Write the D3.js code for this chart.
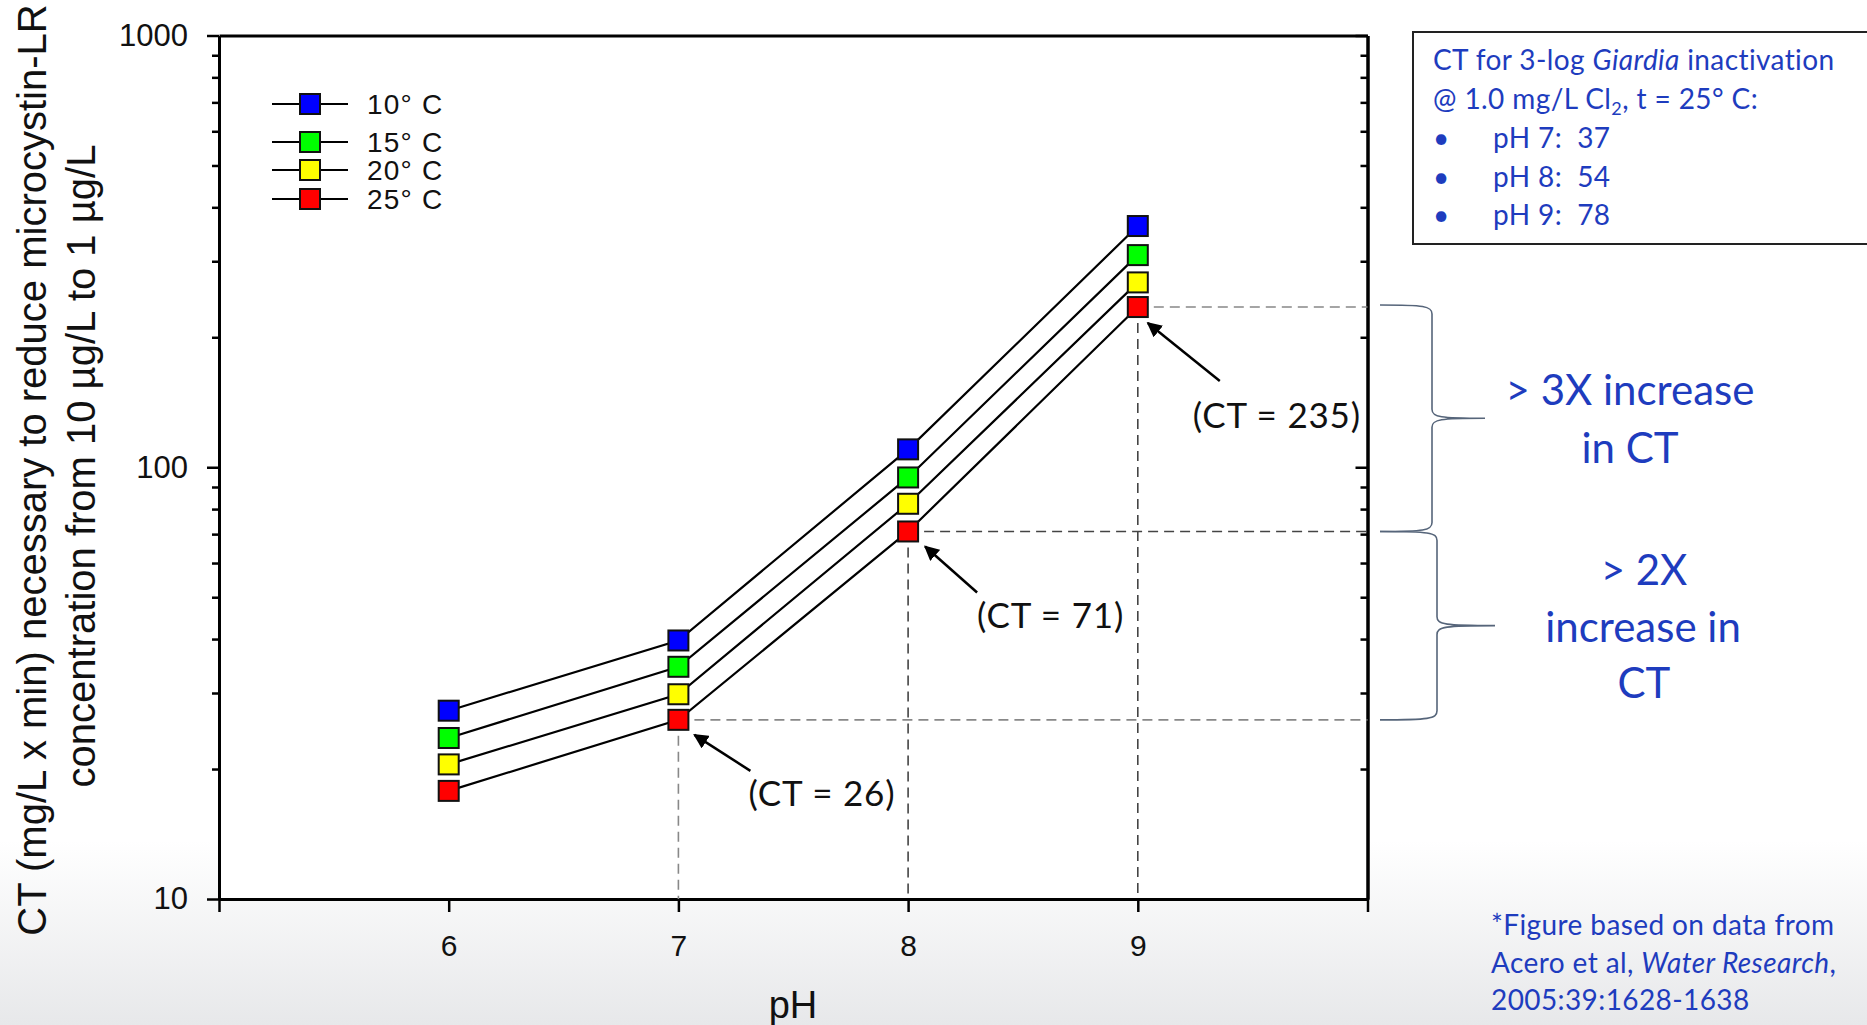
<!DOCTYPE html>
<meta charset="utf-8" />
<script src="https://d3js.org/d3.v7.min.js"></script>
<style>
  body { margin: 0; background: #fff; }
  svg { display: block; }
</style>
<body>
<div id="chart"></div>
<script>
// ---- data ----
var phValues = [6, 7, 8, 9];
var tempLabels = ["10° C", "15° C", "20° C", "25° C"];
var tempColors = ["#0000ff", "#00ff00", "#ffff00", "#ff0000"];
var ct10 = [27.3, 39.7, 110, 362];
var ct15 = [23.6, 34.5, 94.7, 310];
var ct20 = [20.5, 29.8, 82.3, 268];
var ct25 = [17.8, 26, 71, 235];
var yMajor = [10, 100, 1000];
var yMinor = [20, 30, 40, 50, 60, 70, 80, 90, 200, 300, 400, 500, 600, 700, 800, 900];
var xTicks = [5, 6, 7, 8, 9, 10];
var xLabels = [6, 7, 8, 9];
var calloutPh = [7, 8, 9];
var calloutLabels = ["(CT = 26)", "(CT = 71)", "(CT = 235)"];
var giardiaPh = ["pH 7:  37", "pH 8:  54", "pH 9:  78"];

var width = 1867, height = 1025;
var blue = "#1e3cbe";

var svg = d3.select("#chart").append("svg")
  .attr("width", width).attr("height", height)
  .style("font-family", "'Liberation Sans', Arial, sans-serif");

// background with the slide's grey fade at the bottom
var defs = svg.append("defs");
var grad = defs.append("linearGradient").attr("id", "bg")
  .attr("x1", 0).attr("y1", 0).attr("x2", 0).attr("y2", 1);
grad.append("stop").attr("offset", "0.82").attr("stop-color", "#ffffff");
grad.append("stop").attr("offset", "1").attr("stop-color", "#e7e8ea");
svg.append("rect").attr("width", width).attr("height", height).attr("fill", "url(#bg)");

defs.append("marker").attr("id", "arrow")
  .attr("viewBox", "0 0 10 10").attr("refX", 9).attr("refY", 5)
  .attr("markerWidth", 6).attr("markerHeight", 6)
  .attr("markerUnits", "strokeWidth")
  .attr("orient", "auto")
  .append("path").attr("d", "M0,0 L10,5 L0,10 z").attr("fill", "#000");

// scales
var x = d3.scaleLinear().domain([5, 10]).range([219, 1367.5]);
var y = d3.scaleLog().domain([10, 1000]).range([899, 35.5]);

var plot = svg.append("g");
plot.append("rect")
  .attr("x", x(5)).attr("y", y(1000))
  .attr("width", x(10) - x(5)).attr("height", y(10) - y(1000))
  .attr("fill", "#fff");

// ---- axes ----
function styleAxis(g) {
  g.select(".domain").attr("stroke-width", 3).attr("stroke", "#000");
  g.selectAll(".tick line").attr("stroke-width", 2.5).attr("stroke", "#000");
  g.selectAll("text").attr("font-family", "'Liberation Sans', Arial, sans-serif")
    .attr("fill", "#111");
}

// left: majors with labels, minors without
var leftMaj = plot.append("g").attr("transform", "translate(" + x(5) + ",0)")
  .call(d3.axisLeft(y).tickValues(yMajor).tickFormat(d3.format("d"))
    .tickSize(12).tickSizeOuter(0).tickPadding(19));
styleAxis(leftMaj);
leftMaj.selectAll("text").attr("font-size", 31);
var leftMin = plot.append("g").attr("transform", "translate(" + x(5) + ",0)")
  .call(d3.axisLeft(y).tickValues(yMinor).tickFormat("").tickSize(7).tickSizeOuter(0));
styleAxis(leftMin);

// right: ticks pointing inwards
var rightMaj = plot.append("g").attr("transform", "translate(" + x(10) + ",0)")
  .call(d3.axisLeft(y).tickValues(yMajor).tickFormat("").tickSize(12).tickSizeOuter(0));
styleAxis(rightMaj);
var rightMin = plot.append("g").attr("transform", "translate(" + x(10) + ",0)")
  .call(d3.axisLeft(y).tickValues(yMinor).tickFormat("").tickSize(7).tickSizeOuter(0));
styleAxis(rightMin);

// bottom
var bottomAx = plot.append("g").attr("transform", "translate(0," + y(10) + ")")
  .call(d3.axisBottom(x).tickValues(xTicks)
    .tickFormat(function (d) { return xLabels.indexOf(d) >= 0 ? d : ""; })
    .tickSize(13).tickSizeOuter(0).tickPadding(23));
styleAxis(bottomAx);
bottomAx.selectAll("text").attr("font-size", 30);

// top
var topAx = plot.append("g").attr("transform", "translate(0," + y(1000) + ")")
  .call(d3.axisTop(x).tickValues([]).tickSizeOuter(0));
styleAxis(topAx);

// axis titles
svg.append("text")
  .attr("x", 793).attr("y", 1018)
  .attr("text-anchor", "middle").attr("font-size", 38).attr("fill", "#111")
  .text("pH");

var ytitle = svg.append("g").attr("fill", "#111").attr("font-size", 40)
  .attr("text-anchor", "middle");
ytitle.append("text")
  .attr("transform", "translate(46,470) rotate(-90)")
  .text("CT (mg/L x min) necessary to reduce microcystin-LR");
ytitle.append("text")
  .attr("transform", "translate(95,466) rotate(-90)")
  .text("concentration from 10 µg/L to 1 µg/L");

// ---- guide lines from the 25° C series ----
var guides = plot.append("g").attr("fill", "none").attr("stroke-dasharray", "10,6")
  .attr("stroke-width", 1.6);
var guideColor = { 7: "#888", 8: "#444", 9: "#888" };
calloutPh.forEach(function (ph) {
  var i = phValues.indexOf(ph);
  var v = ct25[i];
  guides.append("line")
    .attr("x1", x(ph)).attr("x2", x(ph))
    .attr("y1", y(v)).attr("y2", y(10))
    .attr("stroke", ph === 7 ? "#888" : "#444");
  guides.append("line")
    .attr("x1", x(ph)).attr("x2", x(10))
    .attr("y1", y(v)).attr("y2", y(v))
    .attr("stroke", guideColor[ph]);
});

// ---- series ----
var series = [ct10, ct15, ct20, ct25].map(function (vals, i) {
  return {
    label: tempLabels[i], color: tempColors[i],
    points: phValues.map(function (p, j) { return { ph: p, ct: vals[j] }; })
  };
});

var line = d3.line().x(function (d) { return x(d.ph); }).y(function (d) { return y(d.ct); });

plot.append("g").selectAll("path").data(series).enter().append("path")
  .attr("d", function (d) { return line(d.points); })
  .attr("fill", "none").attr("stroke", "#000").attr("stroke-width", 2.2);

var ms = 20;
series.forEach(function (s) {
  plot.append("g").selectAll("rect").data(s.points).enter().append("rect")
    .attr("x", function (d) { return x(d.ph) - ms / 2; })
    .attr("y", function (d) { return y(d.ct) - ms / 2; })
    .attr("width", ms).attr("height", ms)
    .attr("fill", s.color).attr("stroke", "#111").attr("stroke-width", 2);
});

// ---- legend ----
var legendY = [104, 142, 170, 199];
var legend = svg.append("g");
series.forEach(function (s, i) {
  var g = legend.append("g").attr("transform", "translate(0," + legendY[i] + ")");
  g.append("line").attr("x1", 272).attr("x2", 348)
    .attr("stroke", "#000").attr("stroke-width", 2.2);
  g.append("rect").attr("x", 310 - ms / 2).attr("y", -ms / 2)
    .attr("width", ms).attr("height", ms)
    .attr("fill", s.color).attr("stroke", "#111").attr("stroke-width", 2);
  g.append("text").attr("x", 367).attr("y", 10)
    .attr("font-size", 28).attr("letter-spacing", 1.2)
    .attr("fill", "#111").text(s.label);
});

// ---- callouts ----
var calloutLayout = [
  { tip: [16, 15], tail: [72, 51], text: [70, 74] },
  { tip: [17, 15], tail: [69, 61], text: [69, 84] },
  { tip: [10, 16], tail: [82, 74], text: [55, 108] }
];
calloutPh.forEach(function (ph, k) {
  var i = phValues.indexOf(ph);
  var cx = x(ph), cy = y(ct25[i]), L = calloutLayout[k];
  svg.append("line")
    .attr("x1", cx + L.tail[0]).attr("y1", cy + L.tail[1])
    .attr("x2", cx + L.tip[0]).attr("y2", cy + L.tip[1])
    .attr("stroke", "#000").attr("stroke-width", 2.5)
    .attr("marker-end", "url(#arrow)");
  svg.append("text")
    .attr("x", cx + L.text[0]).attr("y", cy + L.text[1])
    .attr("dy", "0.36em")
    .attr("font-family", "Lato, sans-serif").attr("font-size", 35)
    .attr("letter-spacing", 0.8)
    .attr("fill", "#111")
    .text(calloutLabels[k]);
});

// ---- braces ----
function brace(x0, xs, xt, y0, y1) {
  var ym = (y0 + y1) / 2, r = 9;
  return "M" + x0 + "," + y0 +
    " C" + (xs - 8) + "," + y0 + " " + xs + "," + (y0 + 1) + " " + xs + "," + (y0 + r) +
    " L" + xs + "," + (ym - r) +
    " C" + xs + "," + (ym - 1) + " " + (xs + 8) + "," + ym + " " + xt + "," + ym +
    " M" + xt + "," + ym +
    " C" + (xs + 8) + "," + ym + " " + xs + "," + (ym + 1) + " " + xs + "," + (ym + r) +
    " L" + xs + "," + (y1 - r) +
    " C" + xs + "," + (y1 - 1) + " " + (xs - 8) + "," + y1 + " " + x0 + "," + y1;
}
svg.append("path")
  .attr("d", brace(1380, 1432, 1485, y(ct25[3]) - 2, y(ct25[2])))
  .attr("fill", "none").attr("stroke", "#56657a").attr("stroke-width", 1.6);
svg.append("path")
  .attr("d", brace(1380, 1437, 1495, y(ct25[2]), y(ct25[1])))
  .attr("fill", "none").attr("stroke", "#56657a").attr("stroke-width", 1.6);

var note = svg.append("g").attr("font-family", "Lato, sans-serif")
  .attr("fill", blue).attr("text-anchor", "middle").attr("font-size", 42);
note.append("text").attr("x", 1630).attr("y", 405).text("> 3X increase");
note.append("text").attr("x", 1630).attr("y", 463).text("in CT");
note.append("text").attr("x", 1644).attr("y", 585).text("> 2X");
note.append("text").attr("x", 1643).attr("y", 642).text("increase in");
note.append("text").attr("x", 1644).attr("y", 698).text("CT");

// ---- Giardia info box ----
svg.append("rect").attr("x", 1413).attr("y", 32).attr("width", 480).attr("height", 212)
  .attr("fill", "#fff").attr("stroke", "#222").attr("stroke-width", 2);
var box = svg.append("g").attr("font-family", "Lato, sans-serif")
  .attr("font-size", 28).attr("letter-spacing", 0.4).attr("fill", blue);
var l1 = box.append("text").attr("x", 1433).attr("y", 70);
l1.append("tspan").text("CT for 3-log ");
l1.append("tspan").attr("font-style", "italic").text("Giardia");
l1.append("tspan").text(" inactivation");
var l2 = box.append("text").attr("x", 1433).attr("y", 109);
l2.append("tspan").text("@ 1.0 mg/L Cl");
l2.append("tspan").attr("font-size", 18).attr("dy", 6).text("2");
l2.append("tspan").attr("dy", -6).text(", t = 25° C:");
giardiaPh.forEach(function (t, i) {
  var yy = 148 + i * 38.5;
  box.append("text").attr("x", 1433).attr("y", yy).text("•");
  box.append("text").attr("x", 1493).attr("y", yy).attr("xml:space", "preserve").text(t);
});

// ---- source note ----
var src = svg.append("g").attr("font-family", "Lato, sans-serif")
  .attr("font-size", 28).attr("letter-spacing", 0.4).attr("fill", blue);
src.append("text").attr("x", 1491).attr("y", 935).text("*Figure based on data from");
var s2 = src.append("text").attr("x", 1491).attr("y", 973);
s2.append("tspan").text("Acero et al, ");
s2.append("tspan").attr("font-style", "italic").text("Water Research");
s2.append("tspan").text(",");
src.append("text").attr("x", 1491).attr("y", 1010).text("2005:39:1628-1638");
</script>
</body>
